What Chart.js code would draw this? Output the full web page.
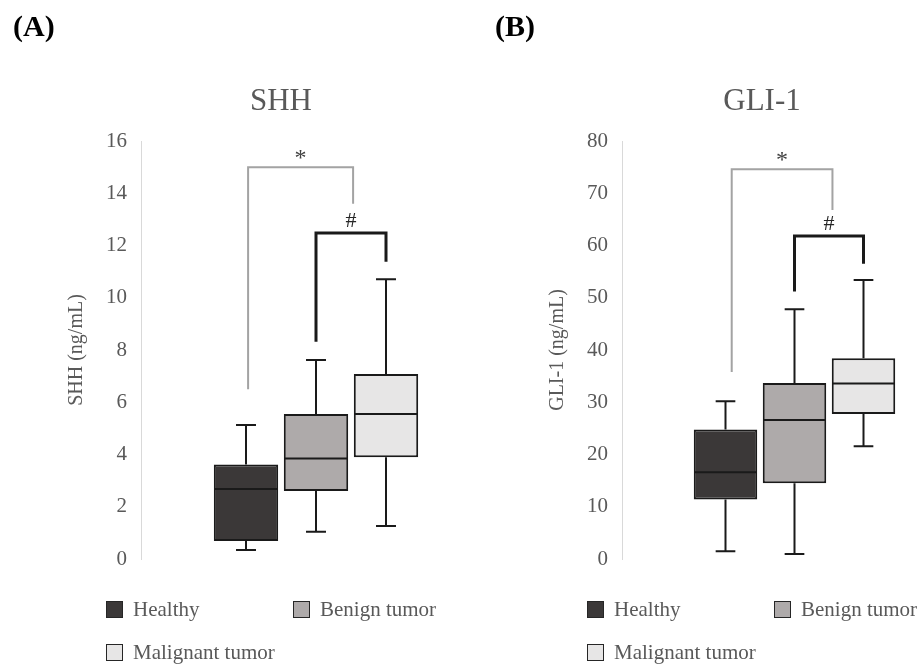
<!DOCTYPE html>
<html><head><meta charset="utf-8">
<script src="https://cdn.jsdelivr.net/npm/chart.js@4/dist/chart.umd.min.js"></script>
<style>
html,body{margin:0;padding:0;width:920px;height:664px;overflow:hidden;background:#fff;font-family:'Liberation Serif','Times New Roman',serif;}
#stage{position:relative;width:920px;height:664px;overflow:hidden;}
.abs{position:absolute;line-height:1;white-space:nowrap;}
.sw{position:absolute;box-sizing:border-box;width:17px;height:17px;border:1.5px solid #262626;}
</style></head><body>
<div id="stage">
  <canvas id="c1" width="500" height="664" style="position:absolute;left:0;top:0;width:500px;height:664px;"></canvas>
  <canvas id="c2" width="490" height="664" style="position:absolute;left:480px;top:0;width:490px;height:664px;"></canvas>
</div>
<script>
// ---------- data ----------
const categories = ['Healthy', 'Benign tumor', 'Malignant tumor'];
const boxColors = ['#3b3838', '#aeaaaa', '#e7e6e6'];

// SHH (ng/mL)
const shhMin    = [0.34, 1.04, 1.26];
const shhQ1     = [0.69, 2.60, 3.89];
const shhMedian = [2.68, 3.85, 5.55];
const shhQ3     = [3.62, 5.55, 7.08];
const shhMax    = [5.13, 7.62, 10.71];
const shhTicks  = [0, 2, 4, 6, 8, 10, 12, 14, 16];

// GLI-1 (ng/mL)
const gliMin    = [1.5, 0.96, 21.6];
const gliQ1     = [11.4, 14.5, 27.75];
const gliMedian = [16.6, 26.6, 33.6];
const gliQ3     = [24.8, 33.7, 38.4];
const gliMax    = [30.2, 47.8, 53.4];
const gliTicks  = [0, 10, 20, 30, 40, 50, 60, 70, 80];

// significance brackets: from/to in category units, heights in axis units
const shhBrackets = [
  {kind: 'star', label: '*', from: 0.03, to: 1.53, top: 15.0, leftEnd: 6.5, rightEnd: 13.6},
  {kind: 'hash', label: '#', from: 1.0, to: 2.0, top: 12.48, leftEnd: 8.32, rightEnd: 11.38}
];
const gliBrackets = [
  {kind: 'star', label: '*', from: 0.09, to: 1.55, top: 74.6, leftEnd: 35.8, rightEnd: 66.8},
  {kind: 'hash', label: '#', from: 1.0, to: 2.0, top: 61.8, leftEnd: 51.2, rightEnd: 56.5}
];

// ---------- styles ----------
const FONT = "'Liberation Serif', 'Times New Roman', serif";
const GREY_TEXT = '#595959';
const bracketStyle = {
  star: {color: '#a3a3a3', width: 2, textColor: '#404040', baseOff: -2, size: 24},
  hash: {color: '#1a1a1a', width: 3, textColor: '#262626', baseOff: -6, size: 22}
};

const boxPlot = {
  id: 'boxPlot',
  afterDatasetsDraw(chart, args, opts) {
    const ctx = chart.ctx, ys = chart.scales.y, xs = chart.scales.x;
    const meta = chart.getDatasetMeta(0);
    ctx.save();
    ctx.strokeStyle = '#1a1a1a';
    ctx.lineWidth = 2;
    meta.data.forEach((bar, i) => {
      const x = bar.x, half = bar.width / 2, cap = bar.width * 0.155;
      const yMin = ys.getPixelForValue(opts.min[i]);
      const yQ1 = ys.getPixelForValue(opts.q1[i]);
      const yMed = ys.getPixelForValue(opts.median[i]);
      const yQ3 = ys.getPixelForValue(opts.q3[i]);
      const yMax = ys.getPixelForValue(opts.max[i]);
      ctx.beginPath();
      ctx.moveTo(x, yQ3); ctx.lineTo(x, yMax);
      ctx.moveTo(x - cap, yMax); ctx.lineTo(x + cap, yMax);
      ctx.moveTo(x, yQ1); ctx.lineTo(x, yMin);
      ctx.moveTo(x - cap, yMin); ctx.lineTo(x + cap, yMin);
      ctx.moveTo(x - half + 1, yMed); ctx.lineTo(x + half - 1, yMed);
      ctx.stroke();
    });
    (opts.brackets || []).forEach(b => {
      const st = bracketStyle[b.kind];
      const x1 = xs.getPixelForValue(b.from), x2 = xs.getPixelForValue(b.to);
      const yt = ys.getPixelForValue(b.top);
      const yl = ys.getPixelForValue(b.leftEnd), yr = ys.getPixelForValue(b.rightEnd);
      ctx.strokeStyle = st.color;
      ctx.lineWidth = st.width;
      ctx.lineJoin = 'miter';
      ctx.beginPath();
      ctx.moveTo(x1, yl); ctx.lineTo(x1, yt); ctx.lineTo(x2, yt); ctx.lineTo(x2, yr);
      ctx.stroke();
      ctx.fillStyle = st.textColor;
      ctx.font = st.size + 'px ' + FONT;
      ctx.textAlign = 'center';
      ctx.textBaseline = 'alphabetic';
      ctx.fillText(b.label, (x1 + x2) / 2, yt + st.baseOff);
    });
    ctx.restore();
  }
};

function makeChart(canvasId, cfg) {
  const data = categories.map((c, i) => ({x: i, y: [cfg.q1[i], cfg.q3[i]]}));
  return new Chart(document.getElementById(canvasId), {
    type: 'bar',
    data: {
      labels: categories,
      datasets: [{
        label: cfg.title,
        data: data,
        backgroundColor: boxColors,
        borderColor: '#1a1a1a',
        borderWidth: 2,
        borderSkipped: false,
        barPercentage: 0.92,
        categoryPercentage: 1
      }]
    },
    options: {
      responsive: false,
      animation: false,
      events: [],
      layout: {padding: cfg.padding},
      plugins: {
        legend: {display: false},
        tooltip: {enabled: false},
        title: {display: false},
        boxPlot: {min: cfg.min, q1: cfg.q1, median: cfg.median, q3: cfg.q3, max: cfg.max, brackets: cfg.brackets}
      },
      scales: {
        x: {
          type: 'linear', min: -1.5, max: 3.5, offset: false, display: false,
          afterBuildTicks(scale) { scale.ticks = categories.map((c, i) => ({value: i})); }
        },
        y: {
          min: cfg.ticks[0], max: cfg.ticks[cfg.ticks.length - 1],
          afterBuildTicks(scale) { scale.ticks = cfg.ticks.map(v => ({value: v})); },
          ticks: {color: GREY_TEXT, font: {family: FONT, size: 21}, padding: 14},
          grid: {display: false, drawTicks: false},
          border: {display: true, color: '#d9d9d9', width: 1},
          title: {display: true, text: cfg.axisTitle, color: GREY_TEXT, font: {family: FONT, size: 20}, padding: {top: 4, bottom: 4}},
          afterFit(scale) { scale.width = 80; }
        }
      }
    },
    plugins: [boxPlot]
  });
}

const chart1 = makeChart('c1', {
  title: 'SHH', axisTitle: 'SHH (ng/mL)', ticks: shhTicks,
  min: shhMin, q1: shhQ1, median: shhMedian, q3: shhQ3, max: shhMax, brackets: shhBrackets,
  padding: {top: 141, bottom: 105, left: 61, right: 9}
});
const chart2 = makeChart('c2', {
  title: 'GLI-1', axisTitle: 'GLI-1 (ng/mL)', ticks: gliTicks,
  min: gliMin, q1: gliQ1, median: gliMedian, q3: gliQ3, max: gliMax, brackets: gliBrackets,
  padding: {top: 141, bottom: 105, left: 62, right: 3}
});

// ---------- text: panel labels, titles, legends ----------
const stage = document.getElementById('stage');
const BASE = 0.8375; // baseline offset (em) for Liberation Serif at line-height 1
function addText(txt, left, baseline, size, opts = {}) {
  const d = document.createElement('div');
  d.className = 'abs';
  d.textContent = txt;
  d.style.fontSize = size + 'px';
  d.style.top = (baseline - BASE * size) + 'px';
  d.style.color = opts.color || GREY_TEXT;
  if (opts.bold) d.style.fontWeight = 'bold';
  if (opts.center) {
    d.style.left = (left - 150) + 'px';
    d.style.width = '300px';
    d.style.textAlign = 'center';
  } else {
    d.style.left = left + 'px';
  }
  stage.appendChild(d);
  return d;
}

function decorate(chart, panelLabel, panelLeft, title) {
  const canvasLeft = chart.canvas.offsetLeft;
  const axisX = canvasLeft + chart.chartArea.left;
  addText(panelLabel, panelLeft, 36, 30, {bold: true, color: '#000'});
  addText(title, axisX + 140, 110, 31, {center: true});
  const slots = [[-35, 0], [152, 0], [-35, 43]];
  categories.forEach((c, i) => {
    const sx = axisX + slots[i][0], sy = 601 + slots[i][1];
    const sw = document.createElement('div');
    sw.className = 'sw';
    sw.style.left = sx + 'px';
    sw.style.top = sy + 'px';
    sw.style.background = boxColors[i];
    stage.appendChild(sw);
    addText(c, sx + 27, sy + 16, 21);
  });
}
decorate(chart1, '(A)', 13, 'SHH');
decorate(chart2, '(B)', 495, 'GLI-1');
</script>
</body></html>
